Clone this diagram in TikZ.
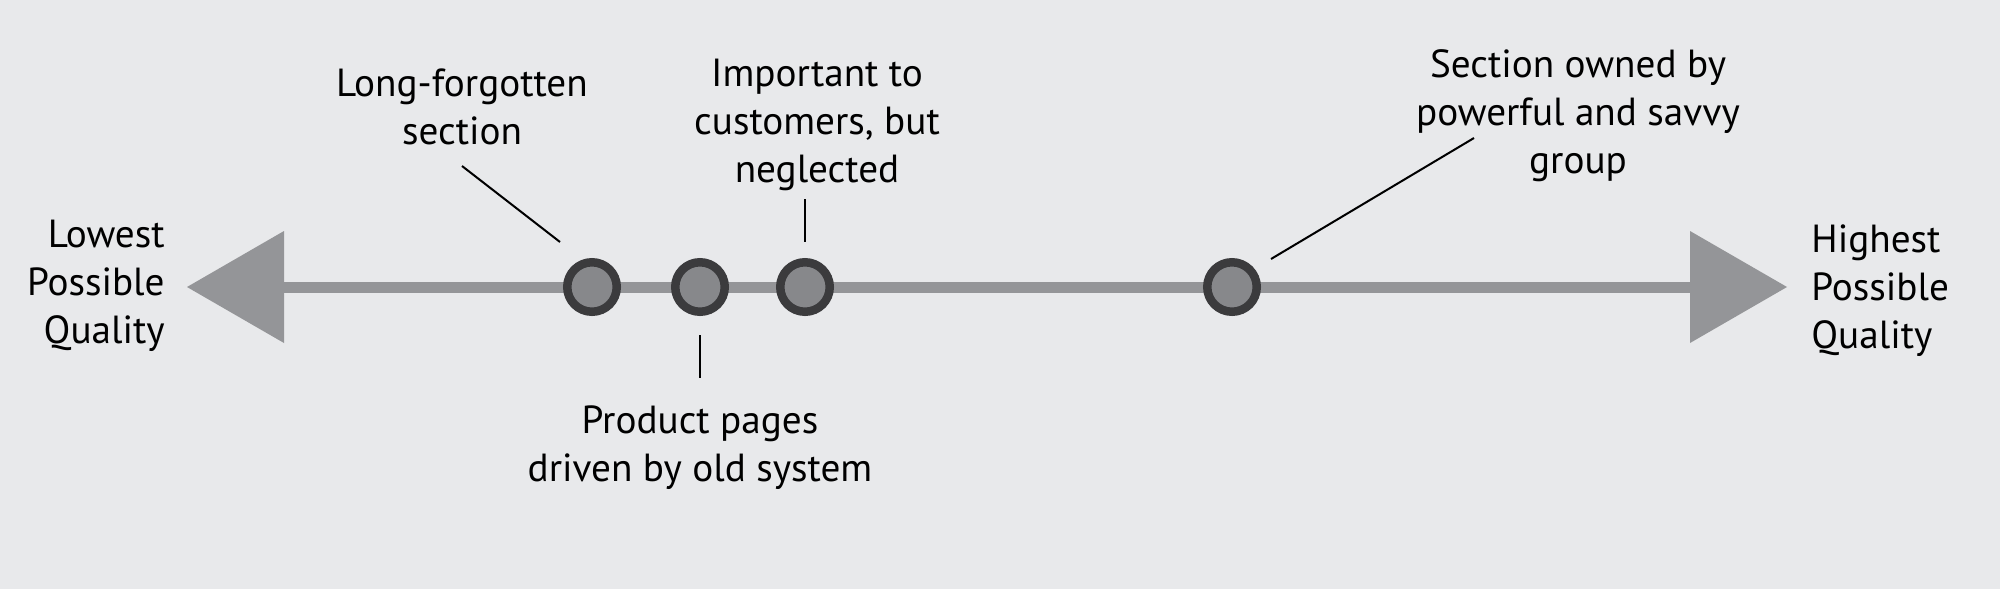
\documentclass[tikz,border=0pt]{standalone}
\usepackage{fontspec}
\setmainfont{PT Sans}
\usetikzlibrary{arrows.meta}
\definecolor{paper}{HTML}{E8E9EB}
\definecolor{axisgray}{HTML}{949598}
\definecolor{ringdark}{HTML}{3B3B3D}
\definecolor{dotfill}{HTML}{87888B}

\begin{document}
\begin{tikzpicture}[x=0.5pt, y=-0.5pt,
    dot/.style={circle, draw=ringdark, fill=dotfill, line width=4.25pt, minimum size=24.75pt, inner sep=0pt},
    caption/.style={font=\fontsize{19.6}{24}\selectfont, align=center, inner sep=0pt, anchor=base},
    leader/.style={line width=1pt, black}
]
    \fill[paper] (0, 0) rectangle (2000, 589);
    \useasboundingbox (0, 0) rectangle (2000, 589);

    \coordinate (low) at (187, 287);
    \coordinate (high) at (1787, 287);
    \draw[axisgray, line width=5.5pt,
          {Triangle[length=48.5pt, width=56pt, line width=0pt]}-{Triangle[length=48.5pt, width=56pt, line width=0pt]}]
          (low) -- (high);

    \node[dot] (forgotten) at (592, 287) {};
    \node[dot] (product) at (700, 287) {};
    \node[dot] (important) at (805, 287) {};
    \node[dot] (owned) at (1232, 287) {};

    \node[caption, align=right, anchor=base east] (lowest) at (165, 343) {Lowest\\Possible\\Quality};
    \node[caption, align=left, anchor=base west] (highest) at (1811, 348) {Highest\\Possible\\Quality};

    \node[caption] (forgotten-text) at (462, 144) {Long-forgotten\\section};
    \node[caption] (important-text) at (817, 182) {Important to\\customers, but\\neglected};
    \node[caption] (owned-text) at (1578, 173) {Section owned by\\powerful and savvy\\group};
    \node[caption] (product-text) at (700, 481) {Product pages\\driven by old system};

    \coordinate (forgotten-a) at (462, 166);
    \coordinate (forgotten-b) at (560, 242);
    \coordinate (important-a) at (805, 199);
    \coordinate (important-b) at (805, 242);
    \coordinate (product-a) at (700, 335);
    \coordinate (product-b) at (700, 378);
    \coordinate (owned-a) at (1474, 138);
    \coordinate (owned-b) at (1271, 259);

    \draw[leader] (forgotten-a) -- (forgotten-b);
    \draw[leader] (important-a) -- (important-b);
    \draw[leader] (product-a) -- (product-b);
    \draw[leader] (owned-a) -- (owned-b);
\end{tikzpicture}
\end{document}
